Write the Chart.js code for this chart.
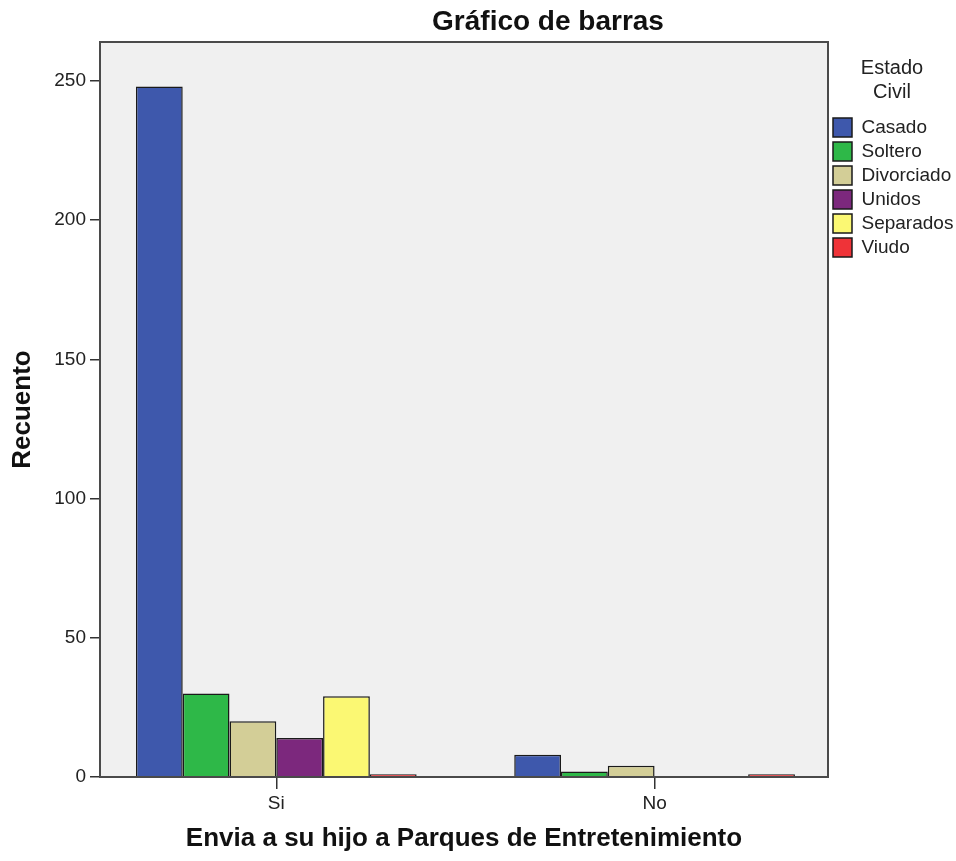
<!DOCTYPE html>
<html>
<head>
<meta charset="utf-8">
<script src="https://cdn.jsdelivr.net/npm/chart.js@4/dist/chart.umd.min.js"></script>
<style>
  body { margin: 0; background: #fff; }
  #wrap { width: 956px; height: 861px; }
</style>
</head>
<body>
<div id="wrap"><canvas id="barChart"></canvas></div>
<script>
const categories = ["Si", "No"];
const estadoCivil = ["Casado", "Soltero", "Divorciado", "Unidos", "Separados", "Viudo"];
const casado = [248, 8];
const soltero = [30, 2];
const divorciado = [20, 4];
const unidos = [14, 0];
const separados = [29, 0];
const viudo = [1, 1];
const colors = ["#3e58ac", "#2eb848", "#d3ce97", "#7c287d", "#fbf873", "#ef3338"];

const FONT = "'Liberation Sans', Arial, sans-serif";
const series = [casado, soltero, divorciado, unidos, separados, viudo];

const data = {
    datasets: series.map(function (values, i) {
        return {
            label: estadoCivil[i],
            data: values.map(function (v, j) { return { x: j, y: v }; }),
            backgroundColor: colors[i],
            borderColor: "#1a1a1a",
            borderWidth: 1.5,
            categoryPercentage: 0.742,
            barPercentage: 1.0
        };
    })
};

// plot background, frame and main title
const framePlugin = {
    id: "frame",
    beforeDraw: function (chart) {
        const a = chart.chartArea;
        const ctx = chart.ctx;
        ctx.save();
        ctx.fillStyle = "#f0f0f0";
        ctx.fillRect(a.left, a.top, a.right - a.left, a.bottom - a.top);
        ctx.restore();
    },
    afterDraw: function (chart) {
        const a = chart.chartArea;
        const ctx = chart.ctx;
        ctx.save();
        ctx.strokeStyle = "#4a4a4a";
        ctx.lineWidth = 2;
        ctx.strokeRect(a.left, a.top, a.right - a.left, a.bottom - a.top);
        ctx.fillStyle = "#111";
        ctx.font = "bold 28px " + FONT;
        ctx.textAlign = "center";
        ctx.textBaseline = "middle";
        ctx.fillText("Gráfico de barras", 548, 22);
        ctx.restore();
    }
};

const CHART = document.getElementById("barChart");

let barChart = new Chart(CHART, {
    type: "bar",
    data: data,
    plugins: [framePlugin],
    options: {
        responsive: true,
        maintainAspectRatio: false,
        animation: false,
        layout: { padding: { top: 42, left: 0, right: 0, bottom: 0 } },
        plugins: {
            tooltip: { enabled: false },
            title: { display: false },
            legend: {
                position: "right",
                align: "start",
                maxWidth: 128,
                onClick: null,
                title: {
                    display: true,
                    text: ["Estado", "Civil"],
                    color: "#222",
                    font: { family: FONT, size: 20 },
                    padding: { top: 16, bottom: 31 }
                },
                labels: {
                    color: "#222",
                    font: { family: FONT, size: 19 },
                    boxWidth: 19,
                    boxHeight: 19,
                    padding: 5
                }
            }
        },
        scales: {
            x: {
                type: "linear",
                min: -0.466,
                max: 1.4584,
                offset: false,
                afterFit: function (scale) { scale.height = 84; },
                afterBuildTicks: function (scale) {
                    scale.ticks = categories.map(function (c, i) { return { value: i }; });
                },
                ticks: {
                    color: "#222",
                    font: { family: FONT, size: 19 },
                    padding: 3,
                    callback: function (v) { return categories[v]; }
                },
                grid: {
                    offset: false,
                    drawOnChartArea: false,
                    tickLength: 12,
                    color: "#333",
                    lineWidth: 1.5
                },
                border: { display: true, color: "#4a4a4a", width: 2 },
                title: {
                    display: true,
                    text: "Envia a su hijo a Parques de Entretenimiento",
                    color: "#111",
                    font: { family: FONT, size: 26, weight: "bold" },
                    padding: { top: 0, bottom: 7 }
                }
            },
            y: {
                min: 0,
                max: 264,
                afterFit: function (scale) { scale.width = 100; },
                ticks: {
                    stepSize: 50,
                    includeBounds: false,
                    color: "#222",
                    font: { family: FONT, size: 19 },
                    padding: 4
                },
                grid: {
                    drawOnChartArea: false,
                    tickLength: 10,
                    color: "#333",
                    lineWidth: 1.5
                },
                border: { display: true, color: "#4a4a4a", width: 2 },
                title: {
                    display: true,
                    text: "Recuento",
                    color: "#111",
                    font: { family: FONT, size: 26, weight: "bold" },
                    padding: { top: 7, bottom: 0 }
                }
            }
        }
    }
});
</script>
</body>
</html>
